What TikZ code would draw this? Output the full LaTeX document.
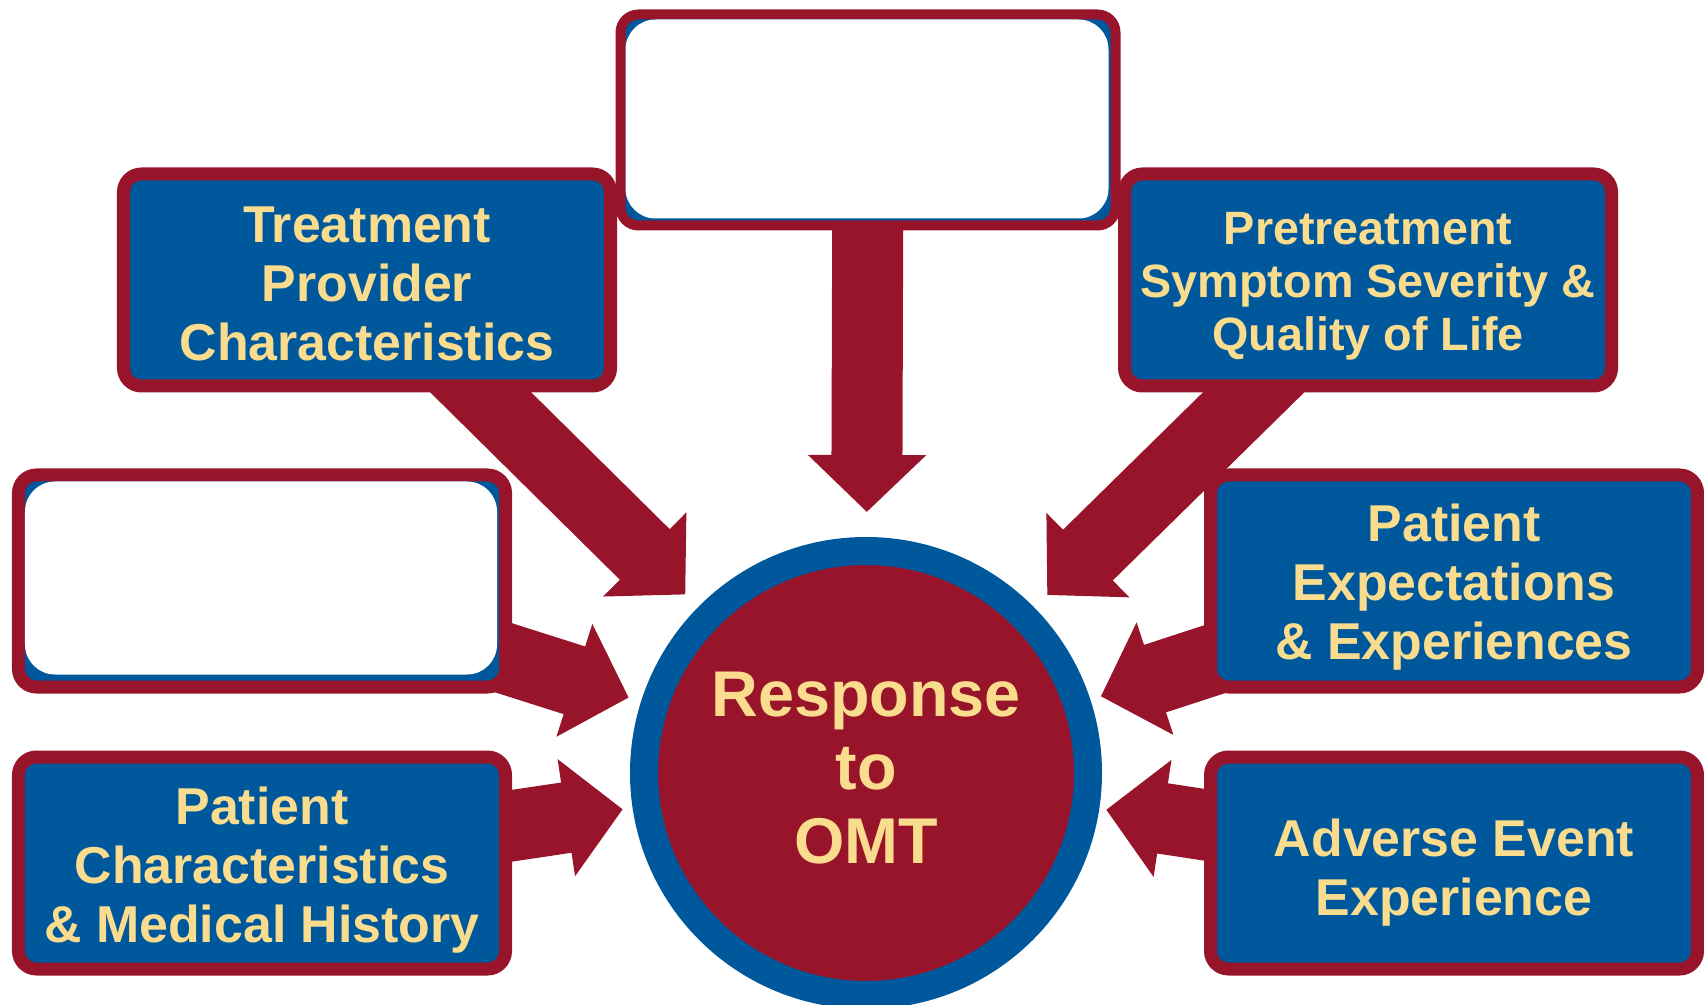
\documentclass[tikz,border=0pt]{standalone}
\usepackage{fontspec}
\setmainfont{Liberation Sans}
\usetikzlibrary{arrows.meta,backgrounds}
\definecolor{omtred}{RGB}{152,20,42}
\definecolor{omtblue}{RGB}{0,88,156}
\definecolor{omttext}{RGB}{250,220,142}
\newcommand\firstline[1]{\rule{0pt}{#1}}
\tikzset{
  factorbox/.style={draw=omtred, fill=omtblue, line width=2.6mm, rounded corners=3.6mm,
    minimum width=97.4mm, minimum height=42.4mm, inner sep=0pt, align=center,
    text=omttext, font=\bfseries\fontsize{29.5}{33.5}\selectfont},
  blankbox/.style={factorbox},
  influence/.style={draw=omtred, line width=14.2mm, -{Triangle[length=11.4mm,width=23mm]}}
}
\begin{document}
\begin{tikzpicture}[x=0.2mm, y=-0.2mm]
  \useasboundingbox (0,0) rectangle (1704,1005);
  % boxes
  \node[blankbox, line width=2mm, minimum width=99mm, minimum height=42.2mm] (topblank) at (868,120) {};
  \node[factorbox] (provider) at (367,280) {\firstline{24.9pt}Treatment\\Provider\\Characteristics};
  \node[factorbox, font=\bfseries\fontsize{26.6}{30.2}\selectfont] (severity) at (1368,280)
    {\firstline{25.2pt}Pretreatment\\Symptom Severity \&\\Quality of Life};
  \node[blankbox] (leftblank) at (262,581) {};
  \node[factorbox] (expect) at (1454,581) {\firstline{28.5pt}Patient\\Expectations\\\& Experiences};
  \node[factorbox] (history) at (262,863) {\firstline{29.1pt}Patient\\Characteristics\\\& Medical History};
  \node[factorbox] (adverse) at (1454,863) {\firstline{32.2pt}Adverse Event\\Experience};
  \foreach \b/\w/\d in {topblank/2mm/2.4mm, leftblank/2.6mm/3.8mm}
    \fill[white, rounded corners=6mm] ([shift={(\w,-\w)}]\b.north west)
      rectangle ([shift={(-\w-0.4mm,\d)}]\b.south east);
  % centre
  \node[circle, fill=omtred, draw=omtblue, line width=5.6mm, minimum size=88.8mm,
    inner sep=0pt, align=center, text=omttext,
    font=\bfseries\fontsize{36.8}{42}\selectfont] (resp) at (866,773)
    {Response\\to\\OMT\rule[-6.1pt]{0pt}{6.1pt}};
  % arrows
  \begin{scope}[on background layer]
    \foreach \src/\gap in {topblank/5mm, provider/3.6mm, severity/3.6mm, leftblank/2.6mm,
        history/2mm, expect/2.2mm, adverse/1.4mm}
      \draw[influence, shorten >=\gap] (\src.center) -- (resp);
  \end{scope}
\end{tikzpicture}
\end{document}
